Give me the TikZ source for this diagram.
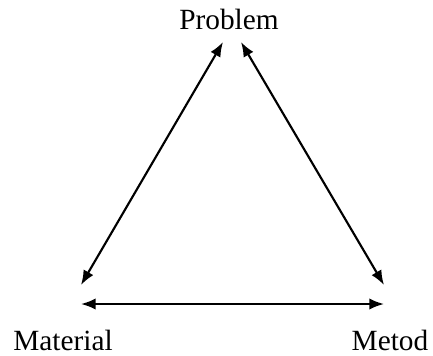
\documentclass[tikz,border=0pt]{standalone}
\usepackage{fontspec}
\setmainfont{Liberation Serif}
\usetikzlibrary{arrows.meta}

\begin{document}
\begin{tikzpicture}[x=0.75pt,y=-0.75pt,
    lbl/.style={font=\fontsize{22}{26}\selectfont, inner sep=0pt},
    link/.style={line width=1.6pt, {Latex[length=11pt,width=8.5pt]}-{Latex[length=11pt,width=8.5pt]}}]
        \useasboundingbox (0,0) rectangle (433,355);

        % Labels
        \node[lbl, anchor=base] (problem)  at (229,29)  {Problem};
        \node[lbl, anchor=base] (material) at (63,350)  {Material};
        \node[lbl, anchor=base] (metod)    at (390,350) {Metod};

        % Arrow ends
        \coordinate (pl) at (223,42);
        \coordinate (pr) at (241,42);
        \coordinate (ml) at (81,285);
        \coordinate (mb) at (81,304);
        \coordinate (tl) at (384,285);
        \coordinate (tb) at (384,304);

        % Links
        \draw[link] (pl) -- (ml);
        \draw[link] (pr) -- (tl);
        \draw[link] (mb) -- (tb);
\end{tikzpicture}
\end{document}
